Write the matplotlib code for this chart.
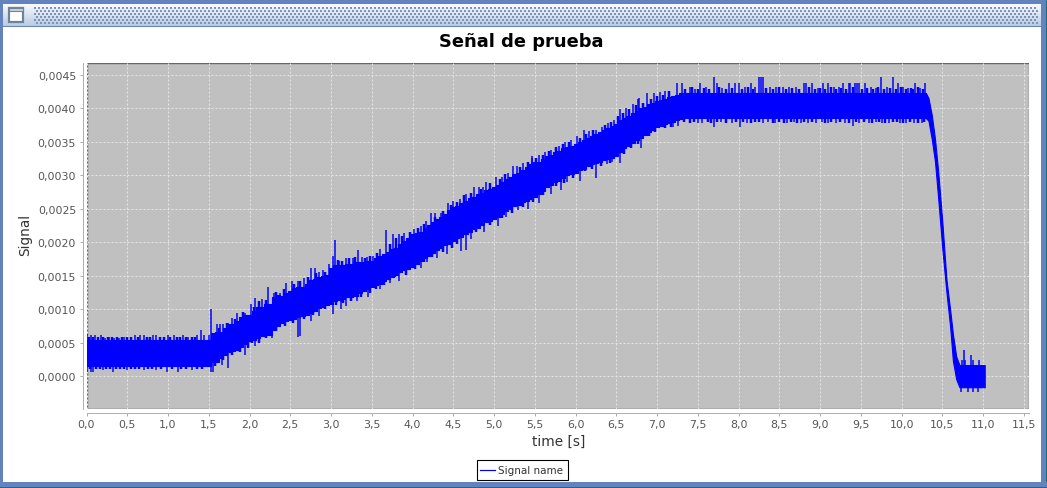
import numpy as np
import matplotlib
matplotlib.use("Agg")
import matplotlib.pyplot as plt
from matplotlib.patches import Rectangle
from matplotlib.ticker import FuncFormatter

title = "Señal de prueba"
x_label = "time [s]"
y_label = "Signal"
series_name = "Signal name"
x_ticks = [0, .5, 1, 1.5, 2, 2.5, 3, 3.5, 4, 4.5, 5, 5.5, 6, 6.5, 7, 7.5, 8, 8.5, 9, 9.5, 10, 10.5, 11, 11.5]
y_ticks = [0, .0005, .001, .0015, .002, .0025, .003, .0035, .004, .0045]

# Solid core of the noisy trace
band_t = [0.0, .1, .2, .3, .4, .5, .6, .7, .8, .9, 1.0, 1.1, 1.2, 1.3, 1.4,
          1.50, 1.55, 1.60, 1.65, 1.70, 1.75, 1.80, 1.85, 1.90, 1.95,
          2.00, 2.05, 2.10, 2.15, 2.20, 2.25, 2.30, 2.35, 2.40, 2.45,
          2.50, 2.55, 2.60, 2.65, 2.70, 2.75, 2.80, 2.85, 2.90, 2.95,
          3.00, 3.05, 3.10, 3.15, 3.20, 3.25, 3.30, 3.35, 3.40, 3.45,
          3.50, 3.55, 3.60, 3.65, 3.70, 3.75, 3.80, 3.85, 3.90, 3.95,
          4.00, 4.05, 4.10, 4.15, 4.20, 4.25, 4.30, 4.35, 4.40, 4.45,
          4.50, 4.55, 4.60, 4.65, 4.70, 4.75, 4.80, 4.85, 4.90, 4.95,
          5.00, 5.05, 5.10, 5.15, 5.20, 5.25, 5.30, 5.35, 5.40, 5.45,
          5.50, 5.55, 5.60, 5.65, 5.70, 5.75, 5.80, 5.85, 5.90, 5.95,
          6.00, 6.05, 6.10, 6.15, 6.20, 6.25, 6.30, 6.35, 6.40, 6.45,
          6.50, 6.55, 6.60, 6.65, 6.70, 6.75, 6.80, 6.85, 6.90, 6.95,
          7.00, 7.05, 7.10, 7.15, 7.20, 7.25, 7.30, 7.35, 7.40, 7.45,
          7.5, 7.8, 8.1, 8.4, 8.7, 9.0, 9.3, 9.6, 9.9, 10.2, 10.3,
          10.33, 10.37, 10.41, 10.45, 10.50, 10.55, 10.595, 10.63, 10.67, 10.71, 10.80, 10.90, 11.02]
band_top = [.00055] * 15 + [
    .00055, .00065, .00066, .00066, .00072, .00078, .00078, .00082, .00088, .00092,
    .00092, .00098, .00104, .00104, .00108, .00108, .00118, .00122, .00120, .00124,
    .00128, .00132, .00134, .00134, .00138, .00144, .00146, .00148, .00150, .00152,
    .00162, .00166, .00166, .00166, .00168, .00168, .00170, .00170, .00170, .00172,
    .00172, .00176, .00180, .00182, .00186, .00190, .00192, .00198, .00202, .00206,
    .00212, .00214, .00216, .00222, .00226, .00230, .00234, .00238, .00242, .00248,
    .00252, .00254, .00258, .00262, .00266, .00268, .00272, .00274, .00278, .00280,
    .00282, .00286, .00290, .00294, .00298, .00302, .00304, .00308, .00312, .00316,
    .00319, .00320, .00324, .00328, .00330, .00334, .00336, .00340, .00342, .00344,
    .00346, .00350, .00352, .00356, .00358, .00362, .00364, .00368, .00370, .00374,
    .00376, .00382, .00386, .00388, .00392, .00396, .00400, .00402, .00406, .00408,
    .00410, .00412, .00414, .00416, .00418, .00420, .00422, .00422, .00422, .00422,
    .00422, .00422, .00422, .00422, .00422, .00422, .00422, .00422, .00422, .00422, .00422,
    .00415, .00390, .00354, .00304, .00230, .00145, .00100, .00063, .00030, .00017, .00017, .00017, .00017]
band_bot = [.00015] * 15 + [
    .00015, .00022, .00022, .00027, .00032, .00036, .00038, .00040, .00044, .00048,
    .00053, .00055, .00058, .00060, .00062, .00062, .00070, .00075, .00080, .00082,
    .00084, .00086, .00088, .00090, .00092, .00094, .00098, .00102, .00104, .00106,
    .00108, .00112, .00114, .00116, .00118, .00118, .00120, .00124, .00128, .00130,
    .00133, .00136, .00138, .00142, .00146, .00148, .00152, .00156, .00158, .00160,
    .00163, .00168, .00172, .00176, .00180, .00184, .00188, .00192, .00196, .00198,
    .00202, .00206, .00208, .00212, .00216, .00220, .00222, .00226, .00230, .00232,
    .00234, .00238, .00242, .00246, .00250, .00254, .00256, .00260, .00262, .00264,
    .00267, .00272, .00276, .00282, .00286, .00290, .00292, .00296, .00300, .00302,
    .00304, .00308, .00310, .00314, .00316, .00318, .00320, .00322, .00324, .00326,
    .00328, .00334, .00340, .00344, .00348, .00352, .00356, .00360, .00364, .00368,
    .00372, .00374, .00376, .00378, .00380, .00382, .00384, .00385, .00385, .00385,
    .00385, .00385, .00385, .00385, .00385, .00385, .00385, .00385, .00385, .00385, .00385,
    .00381, .00354, .00320, .00264, .00190, .00126, .00075, .00023, -.00004, -.00016, -.00016, -.00016, -.00016]

# Spikes rising out of the core: (time, value)
up_t = [0.0, .05, .10, .18, .23, .28, .34, .40, .46, .60, .66, .70, .81, .85, 1.0, 1.07, 1.18, 1.25, 1.36, 1.41, 1.44, 1.50,
        1.53, 1.60, 1.64, 1.67, 1.74, 1.78, 1.85, 1.95, 2.02, 2.07, 2.15, 2.23, 2.30, 2.38, 2.45, 2.52, 2.60, 2.67, 2.75, 2.80, 2.85, 2.90,
        2.97, 3.02, 3.05, 3.10, 3.18, 3.27, 3.33, 3.38, 3.44, 3.52, 3.60, 3.67, 3.76, 3.83, 3.90, 4.02, 4.10, 4.17, 4.23, 4.28, 4.35, 4.43, 4.50, 4.58, 4.66,
        4.76, 4.82, 4.87, 4.90, 5.03, 5.10, 5.17, 5.23, 5.28, 5.36, 5.46, 5.47, 5.55, 5.62, 5.70, 5.80, 5.87, 5.95, 6.02, 6.10, 6.17, 6.25, 6.32, 6.40, 6.47, 6.54, 6.62, 6.70, 6.77,
        6.78, 6.88, 6.96, 7.03, 7.10, 7.24, 7.30, 7.40, 7.46, 7.53, 7.60, 7.70, 7.73, 7.80, 7.88, 7.96, 8.0, 8.08, 8.15, 8.20, 8.25, 8.27, 8.30, 8.38, 8.46, 8.54, 8.62, 8.70, 8.80, 8.83, 8.90, 8.97, 9.03, 9.10, 9.17, 9.23, 9.28, 9.35, 9.37, 9.43, 9.45, 9.48, 9.55, 9.62, 9.68, 9.75, 9.82, 9.90, 9.96, 10.02, 10.08, 10.17, 10.23, 10.29,
        10.74, 10.76, 10.78, 10.85, 10.88, 10.95]
up_v = [.00063, .00062, .00062, .00062, .00058, .00059, .00058, .00058, .00059, .00062, .00062, .00062, .00062, .00062, .00062, .00062, .00062, .00059, .00062, .00070, .00062, .00062,
        .00101, .00078, .00078, .00078, .00080, .00087, .00094, .00095, .00108, .00117, .00115, .00134, .00125, .00125, .00140, .00143, .00143, .00147, .00162, .00162, .00156, .00158,
        .00168, .00180, .00204, .00172, .00176, .00176, .00188, .00178, .00178, .00180, .00190, .00219, .00212, .00212, .00214, .00220, .00224, .00232, .00243, .00244, .00244, .00258, .00262, .00264, .00272,
        .00282, .00282, .00282, .00290, .00298, .00298, .00304, .00314, .00314, .00318, .00329, .00326, .00330, .00334, .00338, .00344, .00350, .00352, .00358, .00367, .00366, .00368, .00372, .00378, .00382, .00398, .00400, .00406, .00413,
        .00415, .00422, .00422, .00424, .00426, .00438, .00438, .00431, .00429, .00438, .00431, .00446, .00438, .00430, .00438, .00438, .00438, .00431, .00438, .00432, .00446, .00446, .00446, .00431, .00432, .00431, .00431, .00432, .00438, .00438, .00438, .00430, .00438, .00438, .00431, .00431, .00438, .00438, .00438, .00438, .00438, .00438, .00438, .00431, .00430, .00446, .00431, .00446, .00438, .00431, .00430, .00438, .00430, .00438,
        .00025, .00040, .00024, .00032, .00025, .00025]
# Spikes falling out of the core: (time, value)
down_t = [.01, .05, .08, .20, .32, .50, .70, .85, .99, 1.12, 1.30, 1.53, 1.55,
          1.66, 1.74, 1.95, 2.07, 2.28, 2.40, 2.60, 2.62, 2.75, 2.85, 3.02, 3.12, 3.18, 3.32, 3.45, 3.60, 3.72, 3.84, 4.10, 4.18, 4.30, 4.42, 4.60, 4.65, 4.72, 4.88, 5.05, 5.15, 5.30, 5.42, 5.55, 5.70, 5.82, 5.90, 6.05, 6.25, 6.38, 6.45, 6.55, 6.80,
          6.87, 7.05, 7.20, 7.26, 7.50, 7.55, 7.70, 7.78, 7.92, 8.02, 8.10, 8.30, 8.36, 8.45, 8.60, 8.68, 8.76, 8.85, 8.95, 9.02, 9.10, 9.20, 9.30, 9.40, 9.48, 9.60, 9.68, 9.76, 9.84, 9.98, 10.05, 10.15, 10.25,
          10.73, 10.81, 10.87, 10.94]
down_v = [.00007, .00007, .00007, .00010, .00007, .00010, .00010, .00010, .00007, .00007, .00010, .00007, .00007,
          .00017, .00013, .00032, .00046, .00058, .00080, .00059, .00060, .00082, .00090, .00093, .00100, .00105, .00112, .00118, .00130, .00140, .00142, .00162, .00170, .00176, .00183, .00187, .00188, .00205, .00216, .00225, .00238, .00248, .00250, .00258, .00272, .00278, .00290, .00292, .00296, .00316, .00320, .00318, .00340,
          .00373, .00374, .00372, .00374, .00378, .00378, .00372, .00380, .00378, .00372, .00378, .00378, .00380, .00378, .00378, .00380, .00378, .00378, .00378, .00380, .00378, .00378, .00378, .00373, .00378, .00378, .00380, .00378, .00378, .00378, .00378, .00378, .00378,
          -.00023, -.00023, -.00023, -.00023]

# Short teeth along the edges of the core
tooth_up_t = [.03, .08, .14, .20, .26, .31, .37, .43, .50, .55, .63, .74, .78, .90, .95, 1.03, 1.11, 1.15, 1.22, 1.30, 1.33,
              1.62, 1.72, 1.82, 1.92, 2.05, 2.12, 2.20, 2.32, 2.42, 2.55, 2.62, 2.72, 2.82, 2.92,
              3.08, 3.14, 3.22, 3.30, 3.42, 3.48, 3.57, 3.72, 3.80, 3.87, 3.97, 4.07, 4.14, 4.27, 4.37, 4.47, 4.55, 4.63, 4.72, 4.84, 4.95,
              5.07, 5.14, 5.32, 5.42, 5.52, 5.60, 5.67, 5.76, 5.84, 5.92, 6.06, 6.13, 6.21, 6.36, 6.43, 6.52, 6.58, 6.66, 6.74, 6.83, 6.92, 7.00, 7.07, 7.15,
              7.34, 7.43, 7.50, 7.57, 7.64, 7.76, 7.84, 7.92, 8.04, 8.11, 8.18, 8.34, 8.42, 8.50, 8.58, 8.66, 8.74, 8.87, 8.94, 9.00, 9.06, 9.13, 9.20, 9.26, 9.32, 9.40, 9.52, 9.58, 9.65, 9.71, 9.79, 9.86, 9.93, 9.99, 10.05, 10.11, 10.14, 10.20, 10.26]
tooth_up_v = [.00059, .00059, .00059, .00059, .00059, .00059, .00059, .00059, .00059, .00059, .00059, .00059, .00059, .00059, .00059, .00059, .00059, .00059, .00059, .00059, .00059,
              .00072, .00080, .00086, .00096, .00104, .00112, .00114, .00126, .00130, .00138, .00142, .00148, .00154, .00156,
              .00174, .00172, .00176, .00178, .00177, .00180, .00184, .00198, .00206, .00210, .00216, .00222, .00228, .00238, .00246, .00256, .00260, .00270, .00274, .00280, .00288,
              .00294, .00302, .00312, .00320, .00326, .00330, .00336, .00342, .00346, .00350, .00356, .00362, .00368, .00375, .00380, .00388, .00392, .00398, .00404, .00408, .00414, .00418, .00420, .00426,
              .00429, .00431, .00428, .00430, .00429, .00431, .00428, .00430, .00429, .00431, .00428, .00430, .00429, .00431, .00428, .00430, .00429, .00431, .00428, .00430, .00429, .00431, .00428, .00430, .00429, .00431, .00428, .00430, .00429, .00431, .00428, .00430, .00429, .00431, .00428, .00430, .00429, .00431, .00428]
tooth_down_t = [.04, .12, .16, .24, .29, .36, .41, .46, .55, .60, .65, .75, .80, .92, 1.05, 1.16, 1.22, 1.36, 1.42,
                1.58, 1.68, 1.78, 1.88, 1.98, 2.03, 2.12, 2.20, 2.33, 2.43, 2.53, 2.67, 2.78, 2.92,
                3.06, 3.15, 3.24, 3.37, 3.48, 3.55, 3.65, 3.78, 3.92, 4.03, 4.14, 4.24, 4.37, 4.48, 4.55, 4.78, 4.95,
                5.10, 5.22, 5.36, 5.48, 5.60, 5.76, 5.86, 5.97, 6.12, 6.20, 6.31, 6.42, 6.60, 6.68, 6.76, 6.90, 6.98, 7.10, 7.17,
                7.33, 7.40, 7.45, 7.62, 7.66, 7.74, 7.85, 7.97, 8.06, 8.15, 8.20, 8.25, 8.42, 8.50, 8.56, 8.64, 8.72, 8.80, 8.90, 9.06, 9.14, 9.25, 9.35, 9.44, 9.54, 9.64, 9.72, 9.80, 9.90, 9.94, 10.02, 10.10, 10.20, 10.28]
tooth_down_v = [.00011, .00011, .00011, .00011, .00011, .00011, .00011, .00011, .00011, .00011, .00011, .00011, .00011, .00011, .00011, .00011, .00011, .00011, .00011,
                .00015, .00024, .00032, .00037, .00043, .00050, .00050, .00057, .00068, .00076, .00079, .00086, .00092, .00100,
                .00106, .00110, .00112, .00118, .00124, .00130, .00136, .00148, .00152, .00160, .00170, .00178, .00186, .00192, .00198, .00216, .00226,
                .00236, .00244, .00252, .00260, .00270, .00284, .00288, .00296, .00306, .00310, .00314, .00318, .00332, .00340, .00346, .00358, .00364, .00370, .00372,
                .00380, .00378, .00380, .00380, .00378, .00380, .00378, .00380, .00380, .00378, .00380, .00380, .00378, .00380, .00378, .00380, .00378, .00380, .00380, .00378, .00380, .00380, .00378, .00380, .00380, .00378, .00380, .00378, .00380, .00380, .00378, .00380, .00378, .00380]

W, H = 1047, 489
fig = plt.figure(figsize=(W / 100, H / 100), dpi=100, facecolor="white")
BLUE = "#6383bf"
px = 0.72

# Window frame, drawn in pixel coordinates
chrome = fig.add_axes([0, 0, 1, 1], zorder=0)
chrome.set_xlim(0, W)
chrome.set_ylim(H, 0)
chrome.axis("off")
chrome.add_patch(Rectangle((0, 0), W, 5, color=BLUE, lw=0))
chrome.add_patch(Rectangle((0, 0), 3, H, color=BLUE, lw=0))
chrome.add_patch(Rectangle((1041, 0), 5, H, color=BLUE, lw=0))
chrome.add_patch(Rectangle((1046, 0), 1, H, color="#1d6e7a", lw=0))
chrome.add_patch(Rectangle((0, 483), W, 5, color=BLUE, lw=0))
chrome.add_patch(Rectangle((0, 488), W, 1, color="#1d6e7a", lw=0))
chrome.add_patch(Rectangle((3, 27), 1038, 1, color=BLUE, lw=0))
grad = np.linspace(0, 1, 22)[:, None]
light, dark = np.array([.97, .98, 1.0]), np.array([.72, .80, .89])
img = (light + (dark - light) * grad[..., None]) * np.ones((22, 1, 1))
chrome.imshow(img, extent=(3, 1041, 27, 5), aspect="auto", interpolation="bilinear", zorder=1)
dots_x = np.arange(35, 1036, 4)
for j, yy in enumerate(range(9, 25, 3)):
    chrome.scatter(dots_x + (j % 2) * 2, np.full(dots_x.shape, yy), s=1.3, marker="s", color="#7f93b4",
                   linewidths=0, zorder=2)
chrome.add_patch(Rectangle((9, 9), 13.5, 14, fc="white", ec="#6f8296", lw=1.6, zorder=3))
chrome.add_patch(Rectangle((9, 9), 13.5, 3, fc="#c9d4e0", ec="#6f8296", lw=0.8, zorder=3))
chrome.set_xlim(0, W)
chrome.set_ylim(H, 0)

# Plot area
L, R, T, B = 86.5, 1028.5, 63.5, 409.5
ax = fig.add_axes([L / W, 1 - B / H, (R - L) / W, (B - T) / H], zorder=2)
ax.patch.set_alpha(0)
ax.add_patch(Rectangle((0, 0), 1, 1, transform=ax.transAxes, fc="#c0c0c0", ec="#666666", lw=1.4 * px, zorder=0))
ax.set_xlim(0, 11.557)
ax.set_ylim(-0.000477, 0.00468)
ax.set_xticks(x_ticks)
ax.set_yticks(y_ticks)
ax.xaxis.set_major_formatter(FuncFormatter(lambda v, _: f"{v:.1f}".replace(".", ",")))
ax.yaxis.set_major_formatter(FuncFormatter(lambda v, _: f"{v:.4f}".replace(".", ",")))
ax.grid(True, color="#e6e6e6", lw=1 * px, linestyle=(0, (2, 2)), zorder=1)
ax.set_axisbelow(True)
for s in ("top", "right"):
    ax.spines[s].set_visible(False)
for s in ("left", "bottom"):
    ax.spines[s].set_position(("outward", 4 * px))
    ax.spines[s].set_color("#b0b0b0")
    ax.spines[s].set_linewidth(1 * px)
ax.tick_params(axis="both", length=3 * px, width=0.8 * px, color="#999999", labelcolor="#555555",
               labelsize=7.9, pad=2.5)

t = np.array(band_t)
top = np.array(band_top)
bot = np.array(band_bot)
mid = (top + bot) / 2
flat = t <= 10.3
fall = t >= 10.3
ax.fill_between(t[flat], bot[flat], top[flat], step="mid", color="#0000ff", lw=0.8, zorder=3)
ax.fill_between(t[fall], bot[fall], top[fall], color="#0000ff", lw=0.8, zorder=3)
ax.vlines(up_t, np.interp(up_t, t, mid), up_v, color="#0000ff", lw=1.5 * px, zorder=3)
ax.vlines(down_t, down_v, np.interp(down_t, t, mid), color="#0000ff", lw=1.5 * px, zorder=3)
ax.vlines(tooth_up_t, np.interp(tooth_up_t, t, mid), tooth_up_v, color="#0000ff", lw=2.5 * px, zorder=3)
ax.vlines(tooth_down_t, tooth_down_v, np.interp(tooth_down_t, t, mid), color="#0000ff", lw=2.5 * px, zorder=3)

fig.text(521.5 / W, 1 - 42 / H, title, ha="center", va="center", fontsize=12.9, fontweight="bold",
         color="black", family="DejaVu Sans")
fig.text(558.5 / W, 1 - 442 / H, x_label, ha="center", va="center", fontsize=9.8, color="#333333")
fig.text(25 / W, 1 - 235 / H, y_label, ha="center", va="center", rotation=90, fontsize=9.8, color="#333333")

# Legend
chrome.add_patch(Rectangle((477, 461), 90.5, 20, fc="white", ec="black", lw=1.1 * px, zorder=5))
chrome.plot([480, 495], [471, 471], color="#0000ff", lw=1.2 * px, zorder=6)
chrome.text(498, 471, series_name, ha="left", va="center", fontsize=7.5, color="#333333", zorder=6)

fig.savefig("out.png", dpi=100)
